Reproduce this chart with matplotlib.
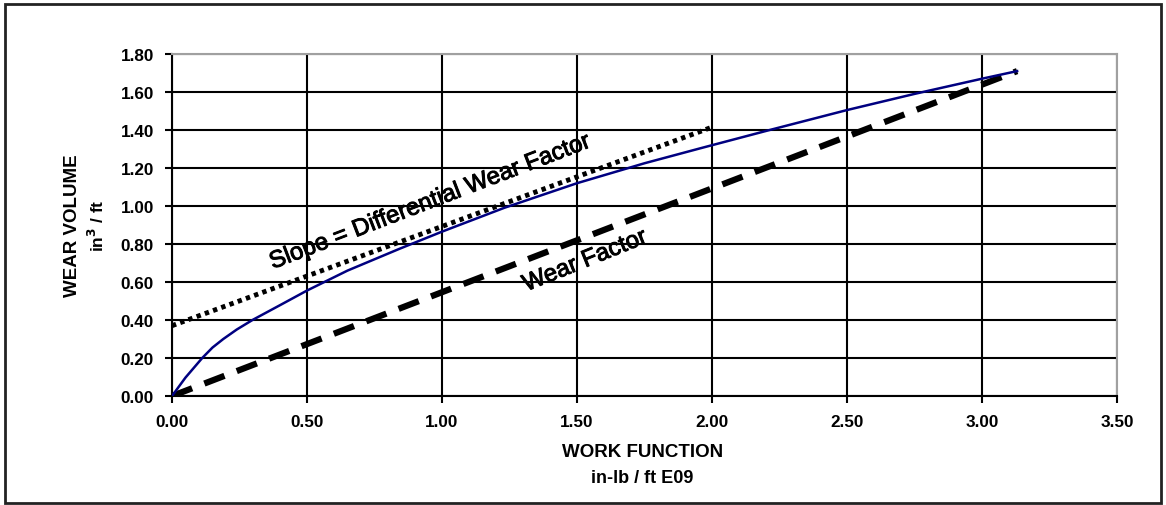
import numpy as np
import matplotlib.pyplot as plt
import matplotlib.patheffects as pe
from matplotlib.patches import Rectangle

plt.rcParams['font.family'] = ['Liberation Sans', 'DejaVu Sans']

# measured wear curve
work = [0.0, 0.05, 0.112, 0.15, 0.19, 0.24, 0.298, 0.40, 0.50, 0.65,
        0.843, 1.00, 1.23, 1.50, 1.75, 1.96, 2.20, 2.50, 2.75, 3.00, 3.13]
wear = [0.0, 0.097, 0.20, 0.255, 0.30, 0.35, 0.40, 0.478, 0.555, 0.66,
        0.775, 0.865, 0.99, 1.12, 1.225, 1.305, 1.395, 1.505, 1.59, 1.67, 1.71]

# tangent line (differential wear factor)
tangent_x = [0.0, 2.0]
tangent_y = [0.37, 1.415]

# secant line through origin (wear factor)
secant_x = [0.0, 3.13]
secant_y = [0.0, 1.71]

xticks = [0.0, 0.5, 1.0, 1.5, 2.0, 2.5, 3.0, 3.5]
yticks = [0.0, 0.2, 0.4, 0.6, 0.8, 1.0, 1.2, 1.4, 1.6, 1.8]

fig = plt.figure(figsize=(11.66, 5.06), dpi=100)
ax = fig.add_axes([0.1475, 0.2154, 0.8105, 0.6759])

ax.plot(work, wear, color='#000080', lw=1.8, zorder=4)
ax.plot(tangent_x, tangent_y, color='black', lw=3.5, linestyle=(0, (0.9, 0.9)),
        zorder=3)
ax.plot(secant_x, secant_y, color='black', lw=4.5, linestyle=(0, (3.45, 2.1)),
        zorder=3)

ax.set_xlim(0, 3.5)
ax.set_ylim(0, 1.8)
ax.set_xticks(xticks)
ax.set_yticks(yticks)
ax.set_xticklabels(['%.2f' % v for v in xticks], fontsize=12.3, fontweight='bold')
ax.set_yticklabels(['%.2f' % v for v in yticks], fontsize=12.3, fontweight='bold')
ax.tick_params(direction='out', length=5, width=1.5, color='black', pad=8)
ax.grid(True, color='black', lw=1.5)
ax.set_axisbelow(True)

for side in ['left', 'bottom']:
    ax.spines[side].set_linewidth(1.5)
    ax.spines[side].set_color('black')
for side in ['top', 'right']:
    ax.spines[side].set_linewidth(1.5)
    ax.spines[side].set_color('#a0a0a0')

# slightly heavier strokes for the line annotations
heavy = [pe.withStroke(linewidth=0.7, foreground='black')]
ax.text(0.956, 1.02, 'Slope = Differential Wear Factor', fontsize=17.3,
        rotation=21, rotation_mode='anchor', ha='center', va='center',
        path_effects=heavy)
ax.text(1.53, 0.71, 'Wear Factor', fontsize=17.3,
        rotation=22, rotation_mode='anchor', ha='center', va='center',
        path_effects=heavy)

fig.text(0.0618, 0.553, 'WEAR VOLUME', rotation=90, fontsize=13.5,
         fontweight='bold', ha='center', va='center')
fig.text(0.0832, 0.553, 'in$^{\\mathbf{3}}$ / ft', rotation=90, fontsize=12.5,
         fontweight='bold', ha='center', va='center')
fig.text(0.551, 0.105, 'WORK FUNCTION', fontsize=13.5, fontweight='bold',
         ha='center', va='center')
fig.text(0.551, 0.055, 'in-lb / ft E09', fontsize=13, fontweight='bold',
         ha='center', va='center')

# frame around the whole figure
fig.patches.append(Rectangle((0.0045, 0.003), 0.991, 0.987, transform=fig.transFigure,
                             fill=False, edgecolor='#222222', lw=2))

fig.savefig('out.png', dpi=100)
